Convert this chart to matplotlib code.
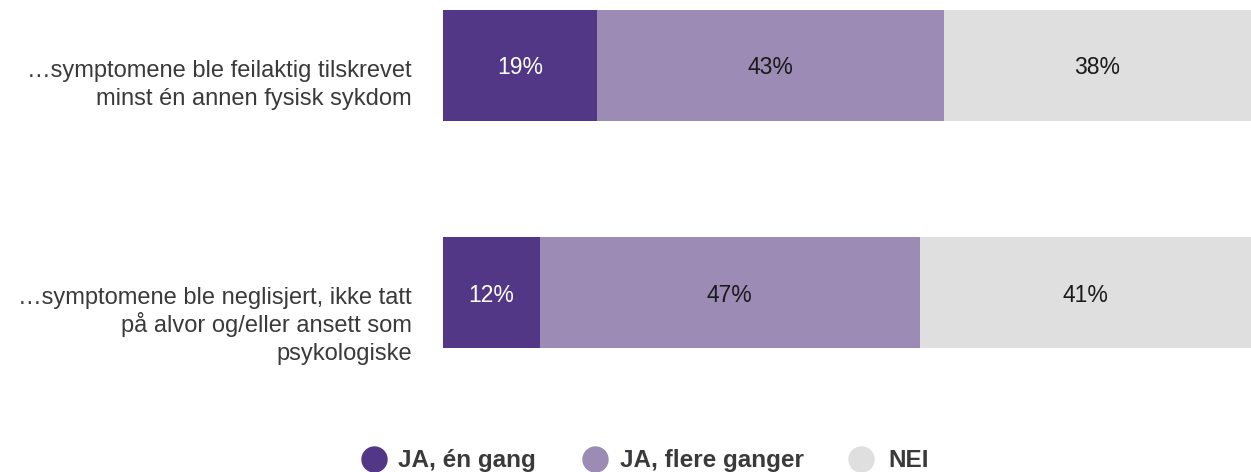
import matplotlib
matplotlib.use("Agg")
import matplotlib.pyplot as plt
from matplotlib.lines import Line2D

plt.rcParams['font.family'] = ['Liberation Sans', 'DejaVu Sans']

categories = [
    "…symptomene ble feilaktig tilskrevet\nminst én annen fysisk sykdom",
    "…symptomene ble neglisjert, ikke tatt\npå alvor og/eller ansett som\npsykologiske",
]
series_names = ["JA, én gang", "JA, flere ganger", "NEI"]
ja_en_gang = [19, 12]
ja_flere_ganger = [43, 47]
nei = [38, 41]
series_values = [ja_en_gang, ja_flere_ganger, nei]
colors = ["#523787", "#9b8bb5", "#dfdfdf"]
text_colors = ["white", "#1a1a1a", "#1a1a1a"]

W, H = 1251, 472
PX = 72 / 100  # points per pixel at 100 dpi
fig = plt.figure(figsize=(W / 100, H / 100), dpi=100)
bar_h = 0.488
ax = fig.add_axes([443 / W, 1 - 348 / H, 808 / W, 338 / H])

y = list(range(len(categories)))
left = [0] * len(categories)
for vals, col, tc in zip(series_values, colors, text_colors):
    bars = ax.barh(y, vals, left=left, height=bar_h, color=col, edgecolor='none')
    for b, v in zip(bars, vals):
        ax.annotate(f"{v}%", (b.get_x() + b.get_width() / 2, b.get_y() + b.get_height() / 2),
                    xytext=(0, -2.5 * PX), textcoords='offset points',
                    ha='center', va='center', color=tc, fontsize=16.5)
    left = [l + v for l, v in zip(left, vals)]

ax.set_xlim(0, 100)
ax.set_ylim(len(categories) - 1 + bar_h / 2, -bar_h / 2)
ax.set_yticks([])
ax.set_xticks([])
for s in ax.spines.values():
    s.set_visible(False)

# category labels, one line at a time with even spacing below each bar's centre
line_step = 28  # px
for yi, cat in zip(y, categories):
    for k, line in enumerate(cat.split("\n")):
        ax.annotate(line, (0, yi), xycoords=('axes fraction', 'data'),
                    xytext=(-31 * PX, -(11.5 + k * line_step) * PX),
                    textcoords='offset points',
                    ha='right', va='baseline', fontsize=17, color="#3a3a3a")

# legend row below the bars
marker_y = 1 - 458.5 / H
text_base = 1 - 467 / H
marker_x = [374, 595, 861]
text_x = [398, 620, 888]
for name, col, mx, tx in zip(series_names, colors, marker_x, text_x):
    fig.add_artist(Line2D([mx / W], [marker_y], marker='o', markersize=18,
                          color=col, linestyle='none', transform=fig.transFigure))
    fig.text(tx / W, text_base, name, ha='left', va='baseline',
             fontsize=17.5, fontweight='bold', color="#3a3a3a")

fig.savefig("out.png", dpi=100)
